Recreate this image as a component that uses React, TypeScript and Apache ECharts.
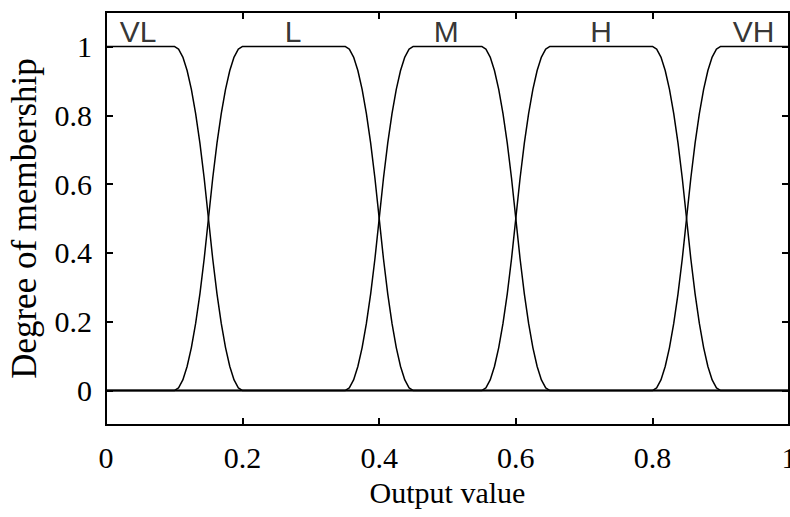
import React, { useEffect, useRef } from "react";
import * as echarts from "echarts";

const setNames = ["VL", "L", "M", "H", "VH"];
const labelX = [0.047, 0.274, 0.498, 0.725, 0.948];
const labelY = 1.044;
const yTicks = [0, 0.2, 0.4, 0.6, 0.8, 1];

const vl = [
  [0, 1],
  [0.1, 1], [0.10625, 0.992], [0.1125, 0.969], [0.11875, 0.93], [0.125, 0.875], [0.13125, 0.805], [0.1375, 0.719], [0.14375, 0.617], [0.15, 0.5], [0.15625, 0.383], [0.1625, 0.281], [0.16875, 0.195], [0.175, 0.125], [0.18125, 0.07], [0.1875, 0.031], [0.19375, 0.008], [0.2, 0],
  [1, 0],
];
const low = [
  [0, 0],
  [0.1, 0], [0.10625, 0.008], [0.1125, 0.031], [0.11875, 0.07], [0.125, 0.125], [0.13125, 0.195], [0.1375, 0.281], [0.14375, 0.383], [0.15, 0.5], [0.15625, 0.617], [0.1625, 0.719], [0.16875, 0.805], [0.175, 0.875], [0.18125, 0.93], [0.1875, 0.969], [0.19375, 0.992], [0.2, 1],
  [0.35, 1], [0.35625, 0.992], [0.3625, 0.969], [0.36875, 0.93], [0.375, 0.875], [0.38125, 0.805], [0.3875, 0.719], [0.39375, 0.617], [0.4, 0.5], [0.40625, 0.383], [0.4125, 0.281], [0.41875, 0.195], [0.425, 0.125], [0.43125, 0.07], [0.4375, 0.031], [0.44375, 0.008], [0.45, 0],
  [1, 0],
];
const med = [
  [0, 0],
  [0.35, 0], [0.35625, 0.008], [0.3625, 0.031], [0.36875, 0.07], [0.375, 0.125], [0.38125, 0.195], [0.3875, 0.281], [0.39375, 0.383], [0.4, 0.5], [0.40625, 0.617], [0.4125, 0.719], [0.41875, 0.805], [0.425, 0.875], [0.43125, 0.93], [0.4375, 0.969], [0.44375, 0.992], [0.45, 1],
  [0.55, 1], [0.55625, 0.992], [0.5625, 0.969], [0.56875, 0.93], [0.575, 0.875], [0.58125, 0.805], [0.5875, 0.719], [0.59375, 0.617], [0.6, 0.5], [0.60625, 0.383], [0.6125, 0.281], [0.61875, 0.195], [0.625, 0.125], [0.63125, 0.07], [0.6375, 0.031], [0.64375, 0.008], [0.65, 0],
  [1, 0],
];
const high = [
  [0, 0],
  [0.55, 0], [0.55625, 0.008], [0.5625, 0.031], [0.56875, 0.07], [0.575, 0.125], [0.58125, 0.195], [0.5875, 0.281], [0.59375, 0.383], [0.6, 0.5], [0.60625, 0.617], [0.6125, 0.719], [0.61875, 0.805], [0.625, 0.875], [0.63125, 0.93], [0.6375, 0.969], [0.64375, 0.992], [0.65, 1],
  [0.8, 1], [0.80625, 0.992], [0.8125, 0.969], [0.81875, 0.93], [0.825, 0.875], [0.83125, 0.805], [0.8375, 0.719], [0.84375, 0.617], [0.85, 0.5], [0.85625, 0.383], [0.8625, 0.281], [0.86875, 0.195], [0.875, 0.125], [0.88125, 0.07], [0.8875, 0.031], [0.89375, 0.008], [0.9, 0],
  [1, 0],
];
const vh = [
  [0, 0],
  [0.8, 0], [0.80625, 0.008], [0.8125, 0.031], [0.81875, 0.07], [0.825, 0.125], [0.83125, 0.195], [0.8375, 0.281], [0.84375, 0.383], [0.85, 0.5], [0.85625, 0.617], [0.8625, 0.719], [0.86875, 0.805], [0.875, 0.875], [0.88125, 0.93], [0.8875, 0.969], [0.89375, 0.992], [0.9, 1],
  [1, 1],
];
const curves = [vl, low, med, high, vh];

const SERIF = "'Liberation Serif', 'Times New Roman', serif";
const SANS = "'Liberation Sans', Arial, sans-serif";

const fmt = (v: number) => String(Math.round(v * 10) / 10);

export default function App() {
  const ref = useRef<HTMLDivElement>(null);
  useEffect(() => {
    if (!ref.current) return;
    const chart = echarts.init(ref.current, undefined, { renderer: "svg" });
    const tick = { show: true, inside: true, length: 7, lineStyle: { color: "#000", width: 2 } };
    const noLine = { show: false, onZero: false };
    chart.setOption({
      animation: false,
      backgroundColor: "#fff",
      grid: {
        show: true,
        left: 106,
        top: 12,
        width: 683,
        height: 413,
        borderColor: "#000",
        borderWidth: 2,
        backgroundColor: "transparent",
        outerBoundsMode: "none",
        containLabel: false,
      },
      xAxis: [
        {
          type: "value",
          min: 0,
          max: 1,
          interval: 0.2,
          position: "bottom",
          name: "Output value",
          nameLocation: "middle",
          nameGap: 52,
          nameTextStyle: { fontFamily: SERIF, fontSize: 30, color: "#000" },
          axisLine: noLine,
          axisTick: tick,
          splitLine: { show: false },
          axisLabel: {
            fontFamily: SERIF,
            fontSize: 30,
            color: "#000",
            margin: 17,
            formatter: fmt,
          },
        },
        {
          type: "value",
          min: 0,
          max: 1,
          interval: 0.2,
          position: "top",
          axisLine: noLine,
          axisTick: tick,
          splitLine: { show: false },
          axisLabel: { show: false },
        },
      ],
      yAxis: [
        {
          type: "value",
          min: -0.1,
          max: 1.1,
          position: "left",
          name: "Degree of membership",
          nameLocation: "middle",
          nameGap: 64,
          nameTextStyle: { fontFamily: SERIF, fontSize: 35, color: "#000" },
          axisLine: noLine,
          axisTick: { ...tick, customValues: yTicks },
          splitLine: { show: false },
          axisLabel: {
            customValues: yTicks,
            fontFamily: SERIF,
            fontSize: 30,
            color: "#000",
            margin: 14,
            formatter: fmt,
          },
        },
        {
          type: "value",
          min: -0.1,
          max: 1.1,
          position: "right",
          axisLine: noLine,
          axisTick: { ...tick, customValues: yTicks },
          splitLine: { show: false },
          axisLabel: { show: false, customValues: yTicks },
        },
      ],
      series: [
        ...curves.map((d, i) => ({
          name: setNames[i],
          type: "line",
          data: d,
          xAxisIndex: 0,
          yAxisIndex: 0,
          showSymbol: false,
          symbol: "none",
          lineStyle: { color: "#000", width: 1.5 },
          emphasis: { disabled: true },
        })),
        {
          type: "scatter",
          xAxisIndex: 0,
          yAxisIndex: 0,
          symbolSize: 0,
          silent: true,
          data: setNames.map((n, i) => ({ value: [labelX[i], labelY], name: n })),
          label: {
            show: true,
            position: "inside",
            formatter: (p: any) => p.name,
            fontFamily: SANS,
            fontSize: 30,
            color: "#000",
          },
        },
      ],
    });
    return () => chart.dispose();
  }, []);
  return <div ref={ref} style={{ width: 790, height: 517, position: "absolute", left: 0, top: 0 }} />;
}
